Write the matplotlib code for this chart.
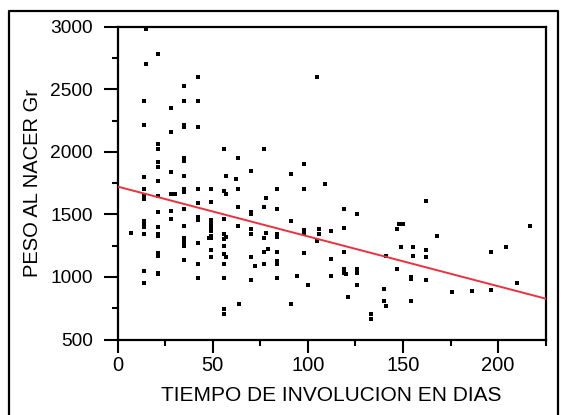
import matplotlib
matplotlib.use("Agg")
import matplotlib.pyplot as plt
from matplotlib.lines import Line2D
import numpy as np

plt.rcParams['font.family'] = ['Liberation Sans', 'DejaVu Sans']

# Days of involution and birth weight (g) for each case
days = [7,
        15, 15, 14, 14, 14, 14, 14, 14, 14, 14, 14, 14, 14, 14,
        21, 21, 21, 21, 21, 21, 21, 21, 21, 21, 21, 21, 21, 21, 21, 21,
        28, 28, 28, 28, 28, 28, 30,
        35, 35, 35, 35, 35, 35, 35, 35, 35, 35, 35, 35, 35, 35, 35, 35,
        42, 42, 42, 42, 42, 42, 42, 42, 42, 42,
        49, 49, 49, 49, 49, 49, 49, 49, 49, 49, 48,
        56, 57, 56, 57, 56, 56, 57, 56, 56, 56, 57, 56, 56, 56, 56,
        63, 62, 63, 63, 63, 64,
        70, 70, 70, 70, 70, 70, 72, 70,
        77, 78, 77, 78, 77, 79, 77, 77,
        84, 84, 84, 84, 84, 84, 84, 84,
        91, 91, 91, 94,
        98, 98, 98, 98, 98, 100,
        105, 106, 106, 105, 109,
        112, 112, 112,
        119, 119, 119, 119, 119, 120, 121,
        126, 126, 126, 126,
        133, 133,
        140, 140, 141, 141,
        147, 148, 150, 149, 147,
        155, 155, 154, 154, 154,
        162, 162, 162, 162,
        168, 176, 186, 196, 196, 204, 210, 217]

weight = [1355,
          2980, 2700, 2410, 2215, 1800, 1700, 1650, 1620, 1450, 1435, 1400, 1340, 1050, 950,
          2785, 2060, 2020, 1920, 1880, 1770, 1647, 1520, 1400, 1340, 1325, 1195, 1180, 1165, 1035, 1020,
          2350, 2157, 1840, 1660, 1530, 1460, 1660,
          2530, 2408, 2215, 2200, 1950, 1930, 1810, 1700, 1680, 1545, 1407, 1310, 1290, 1270, 1250, 1135,
          2600, 2408, 2200, 1700, 1590, 1480, 1455, 1270, 1105, 990,
          1700, 1600, 1455, 1420, 1400, 1370, 1330, 1310, 1215, 1160, 1310,
          2020, 1810, 1690, 1665, 1460, 1345, 1320, 1300, 1245, 1180, 1160, 1105, 995, 745, 700,
          1950, 1780, 1700, 1560, 1405, 785,
          1850, 1520, 1505, 1380, 1340, 1160, 1090, 978,
          2020, 1630, 1560, 1350, 1310, 1225, 1200, 1105,
          1700, 1545, 1340, 1320, 1200, 1125, 1100, 990,
          1825, 1450, 780, 1005,
          1905, 1700, 1375, 1355, 1190, 935,
          2600, 1380, 1340, 1285, 1740,
          1365, 1145, 1005,
          1545, 1395, 1200, 1060, 1035, 1020, 840,
          1505, 1060, 1035, 935,
          700, 660,
          905, 810, 770, 1170,
          1380, 1420, 1420, 1240, 1060,
          1240, 1170, 1000, 980, 810,
          1605, 1215, 1160, 978,
          1325, 880, 890, 1200, 892, 1240, 950, 1405]

# Fitted regression line: weight = intercept + slope * days
intercept = 1722
slope = -3.98

x_ticks = [0, 50, 100, 150, 200]
y_ticks = [500, 1000, 1500, 2000, 2500, 3000]

W, H = 561, 415
fig = plt.figure(figsize=(W / 100, H / 100), dpi=100)
ax = fig.add_axes([117.7 / W, 1 - 339.5 / H, (545.7 - 117.7) / W, (339.5 - 26.7) / H])

ax.scatter(days, weight, marker='s', s=8, color='black', linewidths=0, zorder=3)
xl = np.array([0, 225])
ax.plot(xl, intercept + slope * xl, color='#e8323f', lw=1.4, zorder=4)

ax.set_xlim(0, 225)
ax.set_ylim(500, 3000)
ax.set_xticks(x_ticks)
ax.set_xticks([25, 75, 125, 175, 225], minor=True)
ax.set_yticks(y_ticks)
ax.set_yticks([750, 1250, 1750, 2250, 2750], minor=True)
ax.tick_params(axis='both', which='major', direction='out', width=1.5)
ax.tick_params(axis='both', which='minor', direction='out', width=1.5, length=4)
ax.tick_params(axis='x', which='major', length=9, labelsize=14.5, pad=3)
ax.tick_params(axis='y', which='major', length=10, labelsize=13.8, pad=8)
for sp in ax.spines.values():
    sp.set_linewidth(1.6)

ax.set_xlabel('TIEMPO DE INVOLUCION EN DIAS', fontsize=15, labelpad=8)
ax.set_ylabel('PESO AL NACER Gr', fontsize=14.5, labelpad=6)

# Outer frame around the chart (open at the bottom)
fx = [9 / W, 9 / W, 558 / W, 558 / W]
fy = [0, 1 - 11 / H, 1 - 11 / H, 0]
fig.add_artist(Line2D(fx, fy, transform=fig.transFigure, color='black', lw=1.6))

fig.savefig('out.png', dpi=100)
